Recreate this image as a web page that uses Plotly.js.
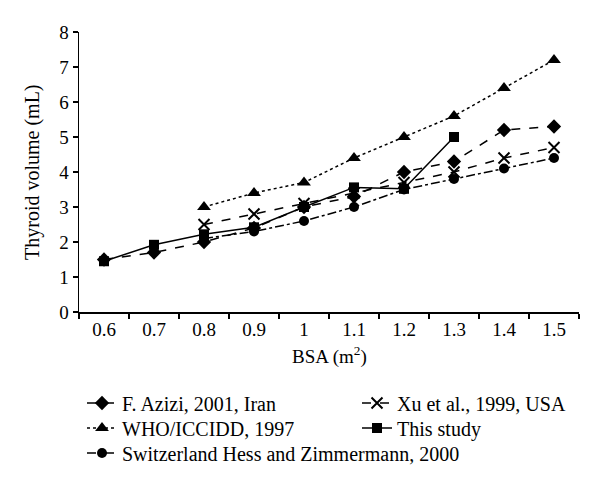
<!DOCTYPE html>
<html>
<head>
<meta charset="utf-8">
<script src="https://cdn.plot.ly/plotly-3.0.1.min.js"></script>
<style>html,body{margin:0;padding:0;background:#fff;}#chart{width:600px;height:485px;}</style>
</head>
<body>
<div id="chart"></div>
<script>
const bsa = ['0.6','0.7','0.8','0.9','1','1.1','1.2','1.3','1.4','1.5'];
const azizi = [1.5, 1.7, 2.0, 2.4, 3.0, 3.3, 4.0, 4.3, 5.2, 5.3];
const xu = [null, null, 2.5, 2.8, 3.1, 3.4, 3.7, 4.0, 4.4, 4.7];
const who = [null, null, 3.0, 3.4, 3.7, 4.4, 5.0, 5.6, 6.4, 7.2];
const thisStudy = [1.45, 1.92, 2.22, 2.42, 3.0, 3.56, 3.52, 5.0, null, null];
const swiss = [null, null, 2.1, 2.3, 2.6, 3.0, 3.5, 3.8, 4.1, 4.4];
const names = ['F. Azizi, 2001, Iran', 'Xu et al., 1999, USA', 'WHO/ICCIDD, 1997', 'This study', 'Switzerland Hess and Zimmermann, 2000'];
const xTitle = 'BSA (m<sup>2</sup>)';
const yTitle = 'Thyroid volume (mL)';

const serif = 'Liberation Serif, Times New Roman, serif';
function tr(y, name, dash, symbol, size, leg) {
  return {x: bsa, y: y, name: name, type: 'scatter', mode: 'lines+markers', legend: leg,
    line: {color: '#000', width: 1.5, dash: dash},
    marker: {color: '#000', symbol: symbol, size: size, line: {color: '#000', width: symbol === 'x-thin' ? 2 : 0}},
    connectgaps: false};
}
const data = [
  tr(azizi, names[0], 'dash', 'diamond', 11, 'legend'),
  tr(xu, names[1], 'dash', 'x-thin', 11, 'legend2'),
  tr(who, names[2], 'dot', 'triangle-up', 12, 'legend3'),
  tr(thisStudy, names[3], 'solid', 'square', 10, 'legend4'),
  tr(swiss, names[4], 'dashdot', 'circle', 10, 'legend5')
];
function leg(xpx, ypx) {
  return {xref: 'container', yref: 'container', x: xpx / 600, y: 1 - ypx / 485,
    xanchor: 'left', yanchor: 'middle', font: {family: serif, size: 20},
    bgcolor: 'rgba(0,0,0,0)', orientation: 'v'};
}
const layout = {
  width: 600, height: 485,
  margin: {l: 79, r: 21, t: 32, b: 173, autoexpand: false},
  paper_bgcolor: '#fff', plot_bgcolor: '#fff',
  font: {family: serif, size: 19, color: '#000'},
  showlegend: true,
  xaxis: {type: 'category', range: [-0.5, 9.5], showline: true, linecolor: '#000', linewidth: 1.5,
    ticks: 'outside', tickson: 'boundaries', ticklen: 5, tickcolor: '#000', tickwidth: 1.5,
    showgrid: false, zeroline: false, tickfont: {family: serif, size: 19}},
  yaxis: {range: [0, 8], dtick: 1, showline: true, linecolor: '#000', linewidth: 1.5,
    ticks: 'outside', ticklen: 5, tickcolor: '#000', tickwidth: 1.5,
    showgrid: false, zeroline: false, tickfont: {family: serif, size: 19}},
  annotations: [
    {text: xTitle, xref: 'paper', yref: 'paper', x: 0.5, y: 0, yshift: -43, xanchor: 'center', yanchor: 'middle',
     showarrow: false, font: {family: serif, size: 19}},
    {text: yTitle, xref: 'paper', yref: 'paper', x: 0, y: 0.5, xshift: -47, xanchor: 'center', yanchor: 'middle',
     textangle: -90, showarrow: false, font: {family: serif, size: 20}}
  ],
  legend: leg(82, 403),
  legend2: leg(357, 403),
  legend3: leg(82, 428),
  legend4: leg(357, 428),
  legend5: leg(82, 453)
};
Plotly.newPlot('chart', data, layout, {displayModeBar: false, staticPlot: true});
</script>
</body>
</html>
